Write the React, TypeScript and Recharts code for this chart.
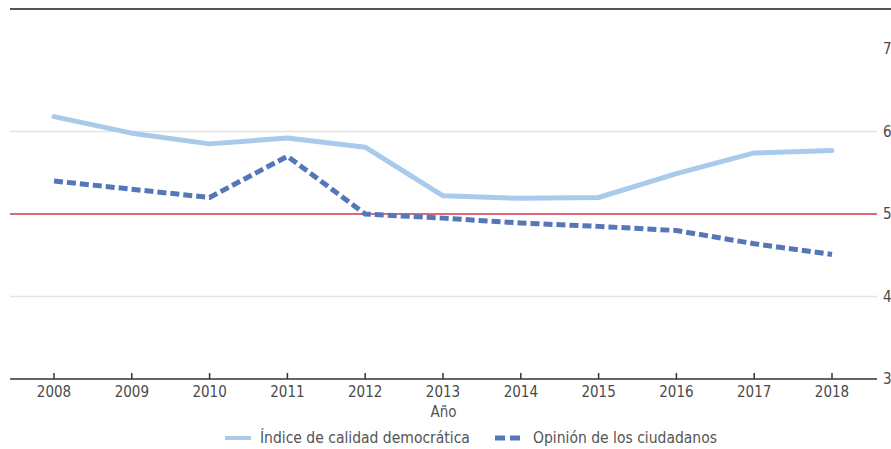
import React from 'react';
import { LineChart, Line, XAxis, YAxis, ReferenceLine, Legend } from 'recharts';

const years = [2008, 2009, 2010, 2011, 2012, 2013, 2014, 2015, 2016, 2017, 2018];
const indiceCalidad = [6.18, 5.98, 5.85, 5.92, 5.81, 5.22, 5.19, 5.2, 5.49, 5.74, 5.77];
const opinionCiudadanos = [5.4, 5.3, 5.2, 5.7, 5.0, 4.95, 4.89, 4.85, 4.8, 4.64, 4.51];
const yTicks = [3, 4, 5, 6, 7];
const gridValues = [4, 6];
const referenceValue = 5;

const seriesNames = ['Índice de calidad democrática', 'Opinión de los ciudadanos'];
const axisTitle = 'Año';

const FONT = '"DejaVu Sans Condensed", "DejaVu Sans", sans-serif';
const LIGHT = '#a9cbeb';
const DARK = '#5577b9';

const data = years.map((y, i) => ({
  year: y,
  indice: indiceCalidad[i],
  opinion: opinionCiudadanos[i],
}));

const XTick = (props: any) => {
  const { x, y, payload } = props;
  return (
    <g>
      <line x1={x} x2={x} y1={y - 6} y2={y} stroke="#333" strokeWidth={1.5} />
      <text x={x} y={y + 18} textAnchor="middle" fontSize={15} fontFamily={FONT} fill="#4a4a4a">
        {payload.value}
      </text>
    </g>
  );
};

const LegendContent = () => (
  <div style={{ position: 'relative', height: 24, fontFamily: FONT, fontSize: 15.5, color: '#555' }}>
    <div style={{ position: 'absolute', left: 225, top: 4, display: 'flex', alignItems: 'center', whiteSpace: 'nowrap' }}>
      <svg width={26} height={6} style={{ marginRight: 9 }}>
        <rect x={0} y={1} width={26} height={4} fill={LIGHT} />
      </svg>
      <span>{seriesNames[0]}</span>
    </div>
    <div style={{ position: 'absolute', left: 495, top: 4, display: 'flex', alignItems: 'center', whiteSpace: 'nowrap' }}>
      <svg width={26} height={6} style={{ marginRight: 12 }}>
        <rect x={0} y={0.5} width={10} height={5} fill={DARK} />
        <rect x={15} y={0.5} width={10} height={5} fill={DARK} />
      </svg>
      <span>{seriesNames[1]}</span>
    </div>
  </div>
);

export default function App() {
  return (
    <div style={{ position: 'absolute', left: 0, top: 0, width: 891, height: 449, background: '#fff', overflow: 'hidden' }}>
      <div style={{ position: 'absolute', left: 10, right: 0, top: 8, height: 0, borderTop: '2px solid #555' }} />
      <LineChart width={891} height={449} data={data} margin={{ top: 49, right: 0, bottom: 0, left: 10 }}>
        <XAxis
          dataKey="year"
          type="number"
          domain={[2008, 2018]}
          ticks={years}
          padding={{ left: 44, right: 45 }}
          height={46}
          tickSize={0}
          tickMargin={0}
          tickLine={false}
          tick={<XTick />}
          axisLine={{ stroke: '#333', strokeWidth: 1.5 }}
          label={{ value: axisTitle, position: 'insideBottom', offset: 8, fontSize: 15, fontFamily: FONT, fill: '#555' }}
        />
        <YAxis
          orientation="right"
          domain={[3, 7]}
          ticks={yTicks}
          width={14}
          axisLine={false}
          tickLine={false}
          tickSize={0}
          tickMargin={6}
          tick={{ fontSize: 15, fontFamily: FONT, fill: '#4a4a4a', textAnchor: 'start' }}
        />
        {gridValues.map((v) => (
          <ReferenceLine key={v} y={v} stroke="#e3e3e3" strokeWidth={1.5} />
        ))}
        <ReferenceLine y={referenceValue} stroke="#d3354f" strokeWidth={1.5} />
        <Legend verticalAlign="bottom" height={24} wrapperStyle={{ left: 0, width: 891, bottom: 0 }} content={<LegendContent />} />
        <Line
          type="linear"
          dataKey="indice"
          stroke={LIGHT}
          strokeWidth={5}
          strokeLinecap="round"
          strokeLinejoin="round"
          dot={false}
          activeDot={false}
          isAnimationActive={false}
        />
        <Line
          type="linear"
          dataKey="opinion"
          stroke={DARK}
          strokeWidth={5}
          strokeDasharray="9 4"
          dot={false}
          activeDot={false}
          isAnimationActive={false}
        />
      </LineChart>
    </div>
  );
}
